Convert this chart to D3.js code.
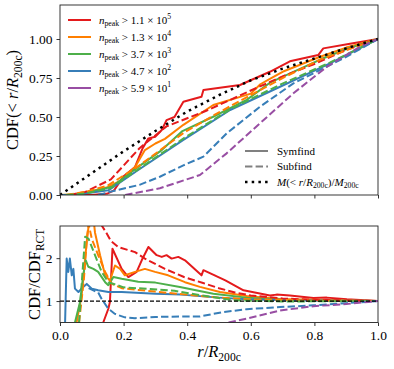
<!DOCTYPE html>
<html>
<head>
<meta charset="utf-8">
<script src="https://cdn.jsdelivr.net/npm/d3@7"></script>
<style>
  body { margin: 0; background: #fff; }
  svg text { font-family: "Liberation Serif", serif; fill: #000; }
</style>
</head>
<body>
<div id="chart"></div>
<script>
// --- data ---
const colors = ['#e41a1c', '#ff7f00', '#4daf4a', '#377eb8', '#984ea3'];
const npeakMantissa = ['1.1', '1.3', '3.7', '4.7', '5.9'];
const npeakExp = ['5', '4', '3', '2', '1'];
const xTicks = [0, 0.2, 0.4, 0.6, 0.8, 1.0];
const yTicksTop = [0, 0.25, 0.5, 0.75, 1.0];
const yTicksBot = [1, 2];

// mass profile M(<r/R200c)/M200c
const massProfile = [[0, 0], [0.1, 0.14], [0.2, 0.28], [0.3, 0.41], [0.4, 0.535], [0.5, 0.64],
  [0.6, 0.735], [0.7, 0.81], [0.8, 0.875], [0.9, 0.94], [1.0, 1.0]];

// CDF, Symfind (solid)
const cdfSymRed = [[0, 0], [0.1, 0], [0.15, 0.01], [0.17, 0.03], [0.2, 0.12], [0.236, 0.18], [0.26, 0.3],
  [0.278, 0.363], [0.3, 0.374], [0.32, 0.417], [0.335, 0.48], [0.36, 0.5], [0.388, 0.598], [0.445, 0.63],
  [0.451, 0.673], [0.566, 0.705], [0.66, 0.79], [0.723, 0.857], [0.812, 0.897], [0.828, 0.94],
  [0.912, 0.97], [1.0, 1.0]];
const cdfSymOrange = [[0, 0], [0.058, 0.005], [0.15, 0.05], [0.194, 0.096], [0.236, 0.18], [0.267, 0.288],
  [0.3, 0.33], [0.33, 0.36], [0.388, 0.45], [0.482, 0.577], [0.6, 0.65], [0.63, 0.71], [0.66, 0.745],
  [0.7, 0.79], [0.818, 0.886], [0.9, 0.945], [1.0, 1.0]];
const cdfSymGreen = [[0, 0], [0.06, 0.003], [0.163, 0.053], [0.246, 0.18], [0.32, 0.288], [0.385, 0.41],
  [0.48, 0.5], [0.587, 0.61], [0.66, 0.72], [0.82, 0.87], [0.9, 0.935], [1.0, 1.0]];
const cdfSymBlue = [[0, 0], [0.05, 0.002], [0.152, 0.03], [0.246, 0.16], [0.388, 0.353], [0.535, 0.545],
  [0.692, 0.694], [0.849, 0.844], [1.0, 1.0]];

// CDF, Subfind (dashed)
const cdfSubRed = [[0.03, 0], [0.08, 0.02], [0.16, 0.1], [0.25, 0.3], [0.335, 0.44], [0.46, 0.54],
  [0.6, 0.67], [0.7, 0.76], [0.8, 0.84], [0.9, 0.93], [1.0, 1.0]];
const cdfSubOrange = [[0.02, 0], [0.08, 0.02], [0.15, 0.06], [0.25, 0.19], [0.39, 0.4], [0.5, 0.53],
  [0.6, 0.64], [0.7, 0.75], [0.82, 0.87], [1.0, 1.0]];
const cdfSubGreen = [[0.02, 0], [0.08, 0.01], [0.16, 0.045], [0.25, 0.17], [0.39, 0.365], [0.54, 0.555],
  [0.69, 0.705], [0.85, 0.85], [1.0, 1.0]];
const cdfSubBlue = [[0.12, 0], [0.157, 0.02], [0.25, 0.065], [0.314, 0.117], [0.388, 0.19], [0.451, 0.246],
  [0.524, 0.395], [0.629, 0.566], [0.734, 0.716], [0.9, 0.886], [1.0, 1.0]];
const cdfSubPurple = [[0.205, 0], [0.314, 0.043], [0.44, 0.128], [0.524, 0.267], [0.629, 0.46],
  [0.734, 0.652], [0.839, 0.822], [0.943, 0.95], [1.0, 1.0]];

// CDF / CDF_RCT, Symfind (solid)
const ratioSymRed = [[0.136, 0.5], [0.152, 0.82], [0.157, 0.98], [0.165, 2.22], [0.194, 1.75], [0.215, 1.56],
  [0.241, 1.68], [0.257, 1.95], [0.278, 2.26], [0.304, 2.07], [0.32, 2.03], [0.335, 2.07], [0.351, 1.99],
  [0.372, 2.03], [0.393, 1.95], [0.445, 1.6], [0.451, 1.72], [0.52, 1.48], [0.577, 1.25], [0.66, 1.13],
  [0.681, 1.15], [0.723, 1.13], [0.797, 1.07], [0.839, 1.08], [0.902, 1.04], [1.0, 1.0]];
const ratioSymOrange = [[0.052, 0.5], [0.068, 1.13], [0.084, 2.38], [0.089, 2.69], [0.095, 2.9], [0.1, 2.8],
  [0.105, 2.95], [0.11, 2.6], [0.126, 2.07], [0.142, 1.6], [0.157, 1.48], [0.173, 1.83], [0.189, 1.75],
  [0.204, 1.6], [0.236, 1.68], [0.267, 1.75], [0.299, 1.68], [0.34, 1.6], [0.393, 1.44], [0.44, 1.33],
  [0.503, 1.21], [0.587, 1.12], [0.692, 1.05], [0.797, 1.03], [1.0, 1.0]];
const ratioSymGreen = [[0.047, 0.5], [0.063, 0.98], [0.073, 1.6], [0.081, 1.95], [0.089, 1.8], [0.105, 1.75],
  [0.12, 1.68], [0.142, 1.44], [0.152, 1.37], [0.168, 1.56], [0.194, 1.52], [0.246, 1.45], [0.3, 1.43],
  [0.377, 1.33], [0.482, 1.17], [0.587, 1.08], [0.7, 1.03], [0.85, 1.01], [1.0, 1.0]];
const ratioSymBlue = [[0.016, 0.5], [0.021, 1.99], [0.026, 1.68], [0.031, 1.99], [0.037, 1.6], [0.042, 1.75],
  [0.047, 1.29], [0.058, 1.21], [0.073, 1.33], [0.084, 1.4], [0.1, 1.29], [0.12, 1.25], [0.152, 1.21],
  [0.194, 1.21], [0.3, 1.17], [0.38, 1.15], [0.5, 1.08], [0.587, 1.04], [0.7, 1.02], [1.0, 1.0]];

// CDF / CDF_RCT, Subfind (dashed)
const ratioSubRed = [[0.128, 2.8], [0.145, 2.6], [0.16, 2.4], [0.183, 2.26], [0.236, 2.14], [0.267, 1.99],
  [0.33, 1.75], [0.39, 1.56], [0.45, 1.42], [0.5, 1.3], [0.55, 1.2], [0.6, 1.13], [0.7, 1.06], [0.8, 1.03],
  [1.0, 1.0]];
const ratioSubOrange = [[0.06, 0.5], [0.075, 1.5], [0.085, 2.5], [0.09, 2.8], [0.1, 2.45], [0.12, 2.07],
  [0.142, 1.68], [0.163, 1.4], [0.194, 1.3], [0.246, 1.26], [0.3, 1.22], [0.4, 1.15], [0.5, 1.08],
  [0.6, 1.04], [0.8, 1.01], [1.0, 1.0]];
const ratioSubGreen = [[0.06, 0.5], [0.07, 1.6], [0.079, 2.5], [0.09, 2.45], [0.11, 2.07], [0.131, 1.68],
  [0.152, 1.44], [0.2, 1.32], [0.283, 1.28], [0.36, 1.24], [0.44, 1.14], [0.545, 1.02], [0.7, 0.99],
  [1.0, 1.0]];
const ratioSubBlue = [[0.09, 1.3], [0.12, 1.2], [0.131, 1.05], [0.152, 0.82], [0.173, 0.7], [0.204, 0.62],
  [0.236, 0.6], [0.3, 0.63], [0.377, 0.64], [0.44, 0.64], [0.514, 0.745], [0.587, 0.81], [0.692, 0.86],
  [0.797, 0.9], [0.9, 0.95], [1.0, 1.0]];
const ratioSubPurple = [[0.53, 0.5], [0.587, 0.59], [0.692, 0.78], [0.797, 0.88], [0.9, 0.93], [1.0, 1.0]];

// --- layout ---
const W = 394, H = 369;
const left = 60, right = 378;
const top1 = 5, bot1 = 195;
const top2 = 226, bot2 = 322.5;
const serif = 'Liberation Serif';

const svg = d3.select('#chart').append('svg')
  .attr('width', W).attr('height', H)
  .attr('viewBox', [0, 0, W, H])
  .attr('font-family', serif);

const x = d3.scaleLinear([0, 1], [left, right]);
const yTop = d3.scaleLinear([0, 1.218], [bot1, top1]);
const yBot = d3.scaleLinear([0.5, 2.75], [bot2, top2]);

const dashStyle = '7.4 3.2';

// writes a small piece of TeX-like text: parts are [string, kind]
function mathText(sel, parts, size) {
  let prev = 0;
  parts.forEach(([s, kind]) => {
    let shift = 0;
    const t = sel.append('tspan').text(s);
    if (kind === 'i') t.attr('font-style', 'italic');
    if (kind === 'sub') { t.attr('font-size', size * 0.7); shift = size * 0.25; }
    if (kind === 'sup') { t.attr('font-size', size * 0.7); shift = -size * 0.4; }
    t.attr('dy', shift - prev);
    prev = shift;
  });
}

function panel(y0, y1, id) {
  svg.append('clipPath').attr('id', id)
    .append('rect').attr('x', left).attr('y', y0).attr('width', right - left).attr('height', y1 - y0);
  return svg.append('g').attr('clip-path', `url(#${id})`);
}

function drawLine(g, data, yScale, color, dash, width) {
  g.append('path')
    .datum(data)
    .attr('fill', 'none')
    .attr('stroke', color)
    .attr('stroke-width', width || 2)
    .attr('stroke-dasharray', dash || null)
    .attr('stroke-linejoin', 'round')
    .attr('d', d3.line().x(d => x(d[0])).y(d => yScale(d[1])));
}

// --- top panel ---
const g1 = panel(top1, bot1, 'clipTop');
const symTop = [cdfSymRed, cdfSymOrange, cdfSymGreen, cdfSymBlue];
const subTop = [cdfSubRed, cdfSubOrange, cdfSubGreen, cdfSubBlue, cdfSubPurple];
symTop.forEach((d, i) => drawLine(g1, d, yTop, colors[i]));
subTop.forEach((d, i) => drawLine(g1, d, yTop, colors[i], dashStyle));
drawLine(g1, massProfile, yTop, '#000', '2.5 4.2', 2.5);

// --- bottom panel ---
const g2 = panel(top2, bot2, 'clipBot');
const symBot = [ratioSymRed, ratioSymOrange, ratioSymGreen, ratioSymBlue];
const subBot = [ratioSubRed, ratioSubOrange, ratioSubGreen, ratioSubBlue, ratioSubPurple];
symBot.forEach((d, i) => drawLine(g2, d, yBot, colors[i]));
subBot.forEach((d, i) => drawLine(g2, d, yBot, colors[i], dashStyle));
drawLine(g2, [[0, 1], [1, 1]], yBot, '#000', '4 2', 1.2);

// --- axes ---
function styleAxis(g) {
  g.attr('font-family', serif).attr('font-size', 13.5);
  g.select('.domain').remove();
  g.selectAll('.tick line').attr('stroke', '#000').attr('stroke-width', 0.8);
}

svg.append('g').attr('transform', `translate(0,${bot1})`)
  .call(d3.axisBottom(x).tickValues(xTicks).tickSize(3.5).tickFormat(''))
  .call(styleAxis);
svg.append('g').attr('transform', `translate(${left},0)`)
  .call(d3.axisLeft(yTop).tickValues(yTicksTop).tickSize(3.5).tickPadding(4).tickFormat(d3.format('.2f')))
  .call(styleAxis);
svg.append('g').attr('transform', `translate(0,${bot2})`)
  .call(d3.axisBottom(x).tickValues(xTicks).tickSize(3.5).tickPadding(4).tickFormat(d3.format('.1f')))
  .call(styleAxis);
svg.append('g').attr('transform', `translate(${left},0)`)
  .call(d3.axisLeft(yBot).tickValues(yTicksBot).tickSize(3.5).tickPadding(4).tickFormat(d3.format('d')))
  .call(styleAxis);

[[top1, bot1], [top2, bot2]].forEach(([a, b]) => {
  svg.append('rect').attr('x', left).attr('y', a).attr('width', right - left).attr('height', b - a)
    .attr('fill', 'none').attr('stroke', '#222').attr('stroke-width', 0.9);
});

// --- axis labels ---
const labTop = svg.append('text')
  .attr('transform', `translate(18,${(top1 + bot1) / 2}) rotate(-90)`)
  .attr('text-anchor', 'middle').attr('font-size', 16.5);
mathText(labTop, [['CDF(< ', ''], ['r', 'i'], ['/', ''], ['R', 'i'], ['200c', 'sub'], [')', '']], 16.5);

const labBot = svg.append('text')
  .attr('transform', `translate(40,${(top2 + bot2) / 2}) rotate(-90)`)
  .attr('text-anchor', 'middle').attr('font-size', 16.5);
mathText(labBot, [['CDF/CDF', ''], ['RCT', 'sub']], 16.5);

const labX = svg.append('text')
  .attr('x', x(0.5)).attr('y', 357)
  .attr('text-anchor', 'middle').attr('font-size', 16.5);
mathText(labX, [['r', 'i'], ['/', ''], ['R', 'i'], ['200c', 'sub']], 16.5);

// --- legends ---
const leg = svg.append('g');
colors.forEach((c, i) => {
  const yy = 20 + i * 17;
  leg.append('line').attr('x1', 68).attr('x2', 91).attr('y1', yy).attr('y2', yy)
    .attr('stroke', c).attr('stroke-width', 2);
  const t = leg.append('text').attr('x', 99).attr('y', yy + 3.5).attr('font-size', 11);
  mathText(t, [['n', 'i'], ['peak', 'sub'], [` > ${npeakMantissa[i]} × 10`, ''], [npeakExp[i], 'sup']], 11);
});

const styleLabels = ['Symfind', 'Subfind'];
const styleDash = [null, dashStyle];
styleLabels.forEach((s, i) => {
  const yy = 151 + i * 15.5;
  leg.append('line').attr('x1', 245).attr('x2', 268).attr('y1', yy).attr('y2', yy)
    .attr('stroke', '#808080').attr('stroke-width', 2).attr('stroke-dasharray', styleDash[i]);
  leg.append('text').attr('x', 277).attr('y', yy + 3.5).attr('font-size', 11).text(s);
});
const yM = 182;
leg.append('line').attr('x1', 245).attr('x2', 268).attr('y1', yM).attr('y2', yM)
  .attr('stroke', '#000').attr('stroke-width', 2.5).attr('stroke-dasharray', '2.5 4.2');
const tM = leg.append('text').attr('x', 277).attr('y', yM + 3.5).attr('font-size', 11);
mathText(tM, [['M', 'i'], ['(< ', ''], ['r', 'i'], ['/', ''], ['R', 'i'], ['200c', 'sub'], [')/', ''], ['M', 'i'], ['200c', 'sub']], 11);
</script>
</body>
</html>
